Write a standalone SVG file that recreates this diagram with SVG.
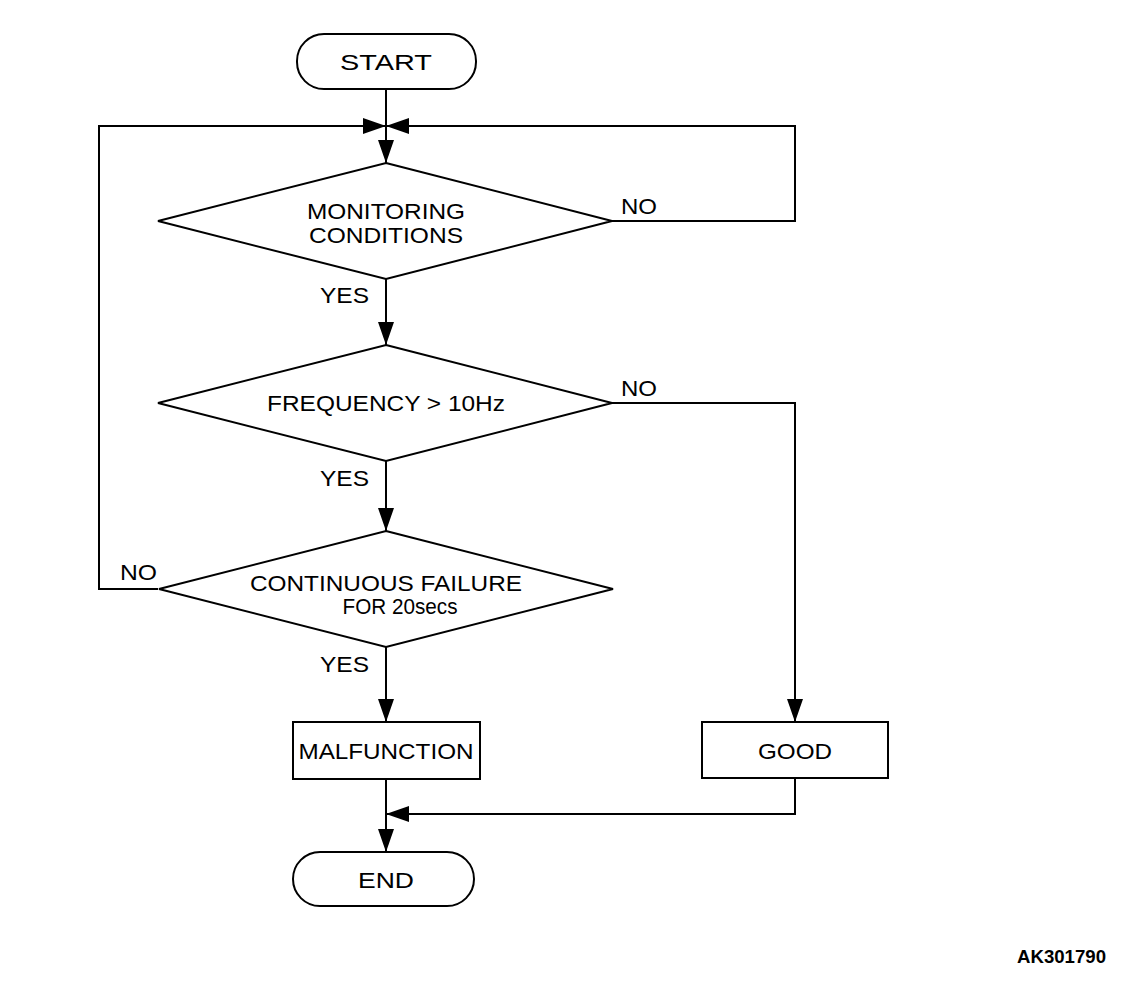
<svg xmlns="http://www.w3.org/2000/svg" width="1136" height="986" viewBox="0 0 1136 986">
<style>
.s{fill:#fff;stroke:#000;stroke-width:2}
.c{fill:none;stroke:#000;stroke-width:2}
text{font-family:"Liberation Sans",Arial,sans-serif;font-size:22px;fill:#000}
.m{text-anchor:middle}
.b{font-weight:bold;font-size:19px}
</style>
<defs>
<marker id="ah" markerUnits="userSpaceOnUse" markerWidth="24" markerHeight="16" viewBox="0 0 24 16" refX="23" refY="8" orient="auto">
<path d="M0,0 L23,8 L0,16 Z" fill="#000"/>
</marker>
</defs>
<rect width="1136" height="986" fill="#fff"/>
<g id="connectors">
<path class="c" d="M386,89 V163" marker-end="url(#ah)"/>
<path class="c" d="M158,589 H99 V126 H386" marker-end="url(#ah)"/>
<path class="c" d="M612,221 H795 V126 H386" marker-end="url(#ah)"/>
<path class="c" d="M386,279 V345" marker-end="url(#ah)"/>
<path class="c" d="M386,461 V531" marker-end="url(#ah)"/>
<path class="c" d="M612,403 H795 V722" marker-end="url(#ah)"/>
<path class="c" d="M386,647 V722" marker-end="url(#ah)"/>
<path class="c" d="M386,780 V852" marker-end="url(#ah)"/>
<path class="c" d="M795,778 V814 H386" marker-end="url(#ah)"/>
</g>
<g id="start">
<rect class="s" x="297" y="34" width="179" height="55" rx="27"/>
<text class="m" x="386" y="70" textLength="92" lengthAdjust="spacingAndGlyphs">START</text>
</g>
<g id="d1">
<polygon class="s" points="386,163 612,221 386,279 158,221"/>
<text class="m" x="386" y="219" textLength="158" lengthAdjust="spacingAndGlyphs">MONITORING</text>
<text class="m" x="386" y="243" textLength="154" lengthAdjust="spacingAndGlyphs">CONDITIONS</text>
</g>
<g id="d2">
<polygon class="s" points="386,345 612,403 386,461 158,403"/>
<text class="m" x="386" y="411" textLength="238" lengthAdjust="spacingAndGlyphs">FREQUENCY &gt; 10Hz</text>
</g>
<g id="d3">
<polygon class="s" points="386,531 613,589 386,647 159,589"/>
<text class="m" x="386" y="591" textLength="272" lengthAdjust="spacingAndGlyphs">CONTINUOUS FAILURE</text>
<text class="m" x="400" y="614" textLength="115" lengthAdjust="spacingAndGlyphs">FOR 20secs</text>
</g>
<g id="malfunction">
<rect class="s" x="293" y="722" width="187" height="57"/>
<text class="m" x="386" y="759" textLength="175" lengthAdjust="spacingAndGlyphs">MALFUNCTION</text>
</g>
<g id="good">
<rect class="s" x="702" y="722" width="186" height="56"/>
<text class="m" x="795" y="759" textLength="74" lengthAdjust="spacingAndGlyphs">GOOD</text>
</g>
<g id="end">
<rect class="s" x="293" y="852" width="181" height="54" rx="27"/>
<text class="m" x="386" y="888" textLength="56" lengthAdjust="spacingAndGlyphs">END</text>
</g>
<g id="labels">
<text x="320" y="303" textLength="49" lengthAdjust="spacingAndGlyphs">YES</text>
<text x="621" y="214" textLength="36" lengthAdjust="spacingAndGlyphs">NO</text>
<text x="621" y="396" textLength="36" lengthAdjust="spacingAndGlyphs">NO</text>
<text x="320" y="486" textLength="49" lengthAdjust="spacingAndGlyphs">YES</text>
<text x="120" y="580" textLength="37" lengthAdjust="spacingAndGlyphs">NO</text>
<text x="320" y="672" textLength="49" lengthAdjust="spacingAndGlyphs">YES</text>
<text class="b" x="1017" y="963" textLength="89" lengthAdjust="spacingAndGlyphs">AK301790</text>
</g>
</svg>
